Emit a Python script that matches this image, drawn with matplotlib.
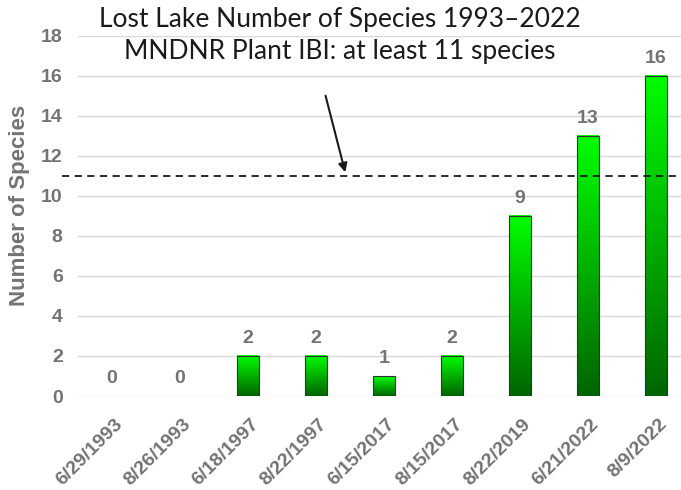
import numpy as np
import matplotlib.pyplot as plt
import matplotlib.transforms as mtrans
from matplotlib.colors import LinearSegmentedColormap

# datos
fechas = ['6/29/1993', '8/26/1993', '6/18/1997', '8/22/1997', '6/15/2017',
          '8/15/2017', '8/22/2019', '6/21/2022', '8/9/2022']
especies = [0, 0, 2, 2, 1, 2, 9, 13, 16]
umbral_ibi = 11
titulo_1 = 'Lost Lake Number of Species 1993\u20132022'
titulo_2 = 'MNDNR Plant IBI: at least 11 species'

gris = '#737373'
fig = plt.figure(figsize=(6.81, 4.9), dpi=100)
# el eje sigue mas alla del borde derecho, como en la imagen recortada
ax = fig.add_axes([78 / 681, (490 - 396) / 490, 612 / 681, 360 / 490])

x = np.arange(len(fechas))
ancho = 0.32
verde = LinearSegmentedColormap.from_list('verde', ['#006400', '#00ff00'])
grad = np.linspace(0, 1, 256).reshape(-1, 1)

for xi, v in zip(x, especies):
    if v > 0:
        ax.imshow(grad, cmap=verde, origin='lower', aspect='auto',
                  extent=(xi - ancho / 2, xi + ancho / 2, 0, v), zorder=2)
        ax.bar(xi, v, width=ancho, facecolor='none', edgecolor='#303030',
               linewidth=0.8, zorder=3)
    ax.text(xi, v + 0.45, str(v), ha='center', va='bottom', fontsize=14,
            fontweight='bold', color=gris, family='Liberation Sans')

ax.set_xlim(-0.5, len(fechas) - 0.5)
ax.set_ylim(0, 18)

# linea del umbral IBI
ax.plot([-0.74, 9.0], [umbral_ibi, umbral_ibi], ls=(0, (4, 3)), color='#1a1a1a',
        lw=1.3, clip_on=False, zorder=4)
ax.annotate('', xy=(3.44, 11.05), xytext=(3.13, 15.15),
            arrowprops=dict(arrowstyle='-|>', color='#1a1a1a', lw=1.5,
                            mutation_scale=13), zorder=5)

ax.set_yticks(range(0, 19, 2))
ax.yaxis.grid(True, color='#d9d9d9', lw=1)
ax.set_axisbelow(True)
for s in ax.spines.values():
    s.set_visible(False)
ax.tick_params(axis='both', length=0, colors=gris, labelsize=14)
ax.tick_params(axis='y', pad=11)
ax.tick_params(axis='x', pad=14)
ax.set_xticks(x)
ax.set_xticklabels(fechas, rotation=45, ha='right', rotation_mode='anchor')
desplazar = mtrans.ScaledTranslation(2 / 100, 0, fig.dpi_scale_trans)
for t in ax.get_xticklabels():
    t.set_transform(t.get_transform() + desplazar)
for t in ax.get_xticklabels() + ax.get_yticklabels():
    t.set_fontweight('bold')
    t.set_family('Liberation Sans')
ax.set_ylabel('Number of Species', fontsize=16, fontweight='bold', color=gris,
              family='Liberation Sans')
ax.yaxis.set_label_coords(-0.078, 0.528)

fig.text(340 / 681, 1 - 20 / 490, titulo_1, ha='center', va='center',
         fontsize=19, color='#1a1a1a', family='Lato')
fig.text(340 / 681, 1 - 52 / 490, titulo_2, ha='center', va='center',
         fontsize=19, color='#1a1a1a', family='Lato')

fig.savefig('out.png', dpi=100)
